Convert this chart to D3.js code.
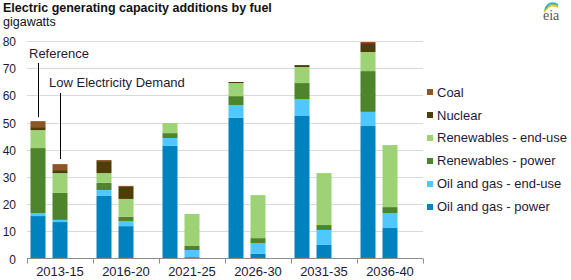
<!DOCTYPE html>
<html><head><meta charset="utf-8">
<script src="https://cdn.jsdelivr.net/npm/d3@7/dist/d3.min.js"></script>
<style>
body{margin:0;background:#fff;}
svg{display:block;font-family:"Liberation Sans",Arial,sans-serif;}
</style></head>
<body><svg id="c" width="571" height="280"></svg>
<script>
const categories = ["2013-15","2016-20","2021-25","2026-30","2031-35","2036-40"];
const scenarios = ["Reference","Low Electricity Demand"];
const fuels = ["Oil and gas - power","Oil and gas - end-use","Renewables - power","Renewables - end-use","Nuclear","Coal"];
const fuelColors = ["#0082be","#4fc8ff","#4e842b","#9dd276","#4f3d08","#8c5626"];
const yTicks = [0,10,20,30,40,50,60,70,80];

const oilGasPowerRef  = [15.6, 23.0, 41.4, 51.7, 52.4, 48.7];
const oilGasPowerLow  = [13.4, 11.9, 0.5, 1.7, 5.0, 11.2];
const oilGasEndUseRef = [1.1, 2.2, 2.9, 4.7, 6.2, 5.2];
const oilGasEndUseLow = [0.8, 1.9, 2.6, 4.0, 5.5, 5.5];
const renewPowerRef   = [23.9, 2.6, 1.8, 3.3, 5.9, 15.0];
const renewPowerLow   = [9.9, 1.5, 1.5, 1.8, 1.8, 2.2];
const renewEndUseRef  = [6.6, 3.6, 3.7, 4.8, 5.9, 7.0];
const renewEndUseLow  = [7.3, 6.6, 11.8, 15.8, 19.1, 22.8];
const nuclearRef      = [1.1, 4.4, 0, 0.4, 0.7, 3.3];
const nuclearLow      = [1.1, 4.4, 0, 0, 0, 0];
const coalRef         = [2.2, 0.4, 0, 0, 0, 0.4];
const coalLow         = [2.2, 0.4, 0, 0, 0, 0];

const refSeries = [oilGasPowerRef, oilGasEndUseRef, renewPowerRef, renewEndUseRef, nuclearRef, coalRef];
const lowSeries = [oilGasPowerLow, oilGasEndUseLow, renewPowerLow, renewEndUseLow, nuclearLow, coalLow];

const rows = [];
categories.forEach((c,i)=>{
  scenarios.forEach((s,j)=>{
    const src = j===0 ? refSeries : lowSeries;
    const r = {category:c, scenario:s};
    fuels.forEach((f,k)=>{ r[f] = src[k][i]; });
    rows.push(r);
  });
});

const svg = d3.select("#c");
const textColor = "#1d1a36";
const x0 = d3.scaleBand().domain(categories).range([27,423]);
const x1 = d3.scaleBand().domain([...scenarios,"_"]).range([0,x0.bandwidth()]).paddingInner(0.318).paddingOuter(0.159);
const y = d3.scaleLinear().domain([0,80]).range([258.5,40.9]);

// gridlines
svg.append("g").selectAll("line").data(yTicks.filter(d=>d>0)).join("line")
  .attr("x1",27).attr("x2",423)
  .attr("y1",d=>Math.round(y(d))+0.5).attr("y2",d=>Math.round(y(d))+0.5)
  .attr("stroke","#d9d9d9").attr("stroke-width",1);

// y axis labels
const yAx = svg.append("g").attr("transform","translate(16,0)")
  .call(d3.axisLeft(y).tickValues(yTicks).tickSize(0).tickPadding(0));
yAx.select(".domain").remove();
yAx.selectAll("text").attr("font-size",12).attr("fill",textColor).attr("font-family","Liberation Sans, Arial, sans-serif")
  .attr("y", d=> Math.round(y(d)) - y(d)).attr("dy","0.35em");

// bars
const stack = d3.stack().keys(fuels);
const stacked = stack(rows);
const g = svg.append("g");
stacked.forEach((layer,k)=>{
  g.append("g").attr("fill",fuelColors[k]).selectAll("rect").data(layer).join("rect")
    .attr("x",d=>x0(d.data.category)+x1(d.data.scenario))
    .attr("width",x1.bandwidth())
    .attr("y",d=>y(d[1]))
    .attr("height",d=>Math.max(0,y(d[0])-y(d[1])));
});

// x axis
const xa = svg.append("g").attr("transform","translate(0,258.5)");
xa.append("line").attr("x1",27).attr("x2",423).attr("stroke","#8c8c8c");
const bounds = categories.map(c=>x0(c)).concat([x0.range()[1]]);
xa.selectAll("line.tk").data(bounds).join("line").attr("class","tk")
  .attr("x1",d=>Math.round(d)+0.5).attr("x2",d=>Math.round(d)+0.5).attr("y1",0).attr("y2",5)
  .attr("stroke","#8c8c8c");
const xAx = svg.append("g").attr("transform","translate(0,258.5)")
  .call(d3.axisBottom(x0).tickSize(0).tickPadding(8));
xAx.select(".domain").remove();
xAx.selectAll("text").attr("font-size",13).attr("fill",textColor).attr("font-family","Liberation Sans, Arial, sans-serif");

// annotations
function topOf(cat, scen){
  const r = rows.find(d=>d.category===cat && d.scenario===scen);
  return d3.sum(fuels, f=>r[f]);
}
const refX = x0(categories[0]) + x1(scenarios[0]) + x1.bandwidth()/2;
const lowX = x0(categories[0]) + x1(scenarios[1]) + x1.bandwidth()/2;
svg.append("line").attr("x1",Math.round(refX)+0.5).attr("x2",Math.round(refX)+0.5)
  .attr("y1",63).attr("y2",y(topOf(categories[0],scenarios[0]))-4).attr("stroke","#000");
svg.append("line").attr("x1",Math.round(lowX)+0.5).attr("x2",Math.round(lowX)+0.5)
  .attr("y1",93).attr("y2",y(topOf(categories[0],scenarios[1]))-5).attr("stroke","#000");
svg.append("text").attr("x",29).attr("y",57.5).attr("font-size",13).attr("fill",textColor).text(scenarios[0]);
svg.append("text").attr("x",49).attr("y",86.5).attr("font-size",13).attr("fill",textColor).text(scenarios[1]);

// legend
const legendOrder = fuels.map((f,i)=>i).reverse();
const lg = svg.append("g");
legendOrder.forEach((k,i)=>{
  const cy = 92 + i*22.9;
  lg.append("rect").attr("x",427).attr("y",Math.round(cy)-3).attr("width",6).attr("height",6).attr("fill",fuelColors[k]);
  lg.append("text").attr("x",437).attr("y",cy).attr("dy","0.36em").attr("font-size",13)
    .attr("fill",textColor).text(fuels[k]);
});

// title
svg.append("text").attr("x",3).attr("y",12).attr("font-size",12.5).attr("font-weight","bold").attr("fill","#111")
  .text("Electric generating capacity additions by fuel");
svg.append("text").attr("x",3).attr("y",26).attr("font-size",12.5).attr("fill","#111").text("gigawatts");

// eia logo
const logo = svg.append("g").attr("transform","translate(543,4)");
const arcCols = ["#f2c314","#8cc63f","#29abe2"];
arcCols.forEach((c,i)=>{
  logo.append("path").attr("d",`M${1+i*0.5},${8-i*1.6} Q${7},${-1-i*1.6} ${15},${3-i*1.2}`)
    .attr("fill","none").attr("stroke",c).attr("stroke-width",1.4);
});
logo.append("text").attr("x",0).attr("y",16).attr("font-family","Liberation Serif, serif").attr("font-size",14)
  .attr("fill","#555").text("eia");
</script></body></html>
